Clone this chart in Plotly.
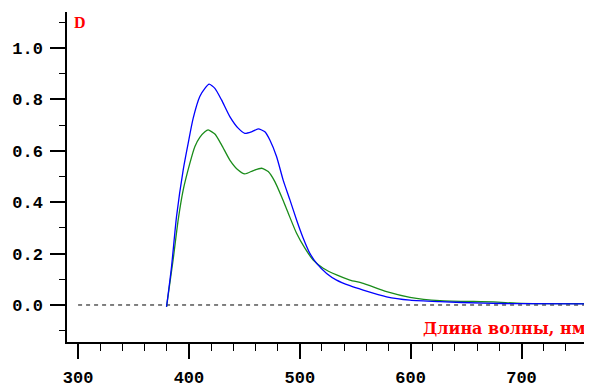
import plotly.graph_objects as go

# Blue spectrum
wl_blue = [379.8, 384.3, 388.8, 394.8, 399.3, 403.8, 409.8, 414.4, 418.2, 423.4, 429.4,
           436.9, 444.4, 450.4, 456.5, 462.5, 468.5, 473.0, 479.1, 485.0, 491.1, 497.1,
           503.1, 509.1, 515.2, 524.2, 533.2, 545.2, 557.2, 578.3, 599.4, 626.4, 665.5,
           700.0, 757.0]
d_blue = [-0.007, 0.149, 0.344, 0.525, 0.629, 0.726, 0.811, 0.843, 0.859, 0.843, 0.798,
          0.733, 0.688, 0.668, 0.674, 0.685, 0.674, 0.642, 0.577, 0.486, 0.409, 0.331,
          0.260, 0.201, 0.162, 0.123, 0.097, 0.075, 0.058, 0.032, 0.019, 0.013, 0.007,
          0.005, 0.004]

# Green spectrum
wl_green = [379.8, 385.7, 390.3, 394.8, 400.8, 405.3, 409.8, 414.4, 417.3, 423.4, 429.4,
            436.9, 444.4, 450.4, 458.0, 465.5, 471.5, 477.5, 483.6, 489.6, 497.1, 504.6,
            512.1, 521.1, 533.2, 545.2, 557.2, 578.3, 599.4, 626.4, 674.5, 700.0, 757.0]
d_green = [-0.007, 0.175, 0.331, 0.447, 0.551, 0.616, 0.652, 0.674, 0.681, 0.665, 0.623,
           0.564, 0.525, 0.510, 0.523, 0.532, 0.519, 0.480, 0.421, 0.357, 0.279, 0.221,
           0.175, 0.143, 0.117, 0.097, 0.084, 0.052, 0.030, 0.017, 0.012, 0.006, 0.005]

baseline_wl = [300, 757]
baseline_d = [0, 0]

x_ticks = [300, 400, 500, 600, 700]
y_ticks = [0.0, 0.2, 0.4, 0.6, 0.8, 1.0]
y_labels = ["0.0", "0.2", "0.4", "0.6", "0.8", "1.0"]

fig = go.Figure()
fig.add_trace(go.Scatter(x=baseline_wl, y=baseline_d, mode="lines",
                         line=dict(color="black", width=1, dash="4px,4px"),
                         hoverinfo="skip"))
fig.add_trace(go.Scatter(x=wl_green, y=d_green, mode="lines",
                         line=dict(color="#1a8c1a", width=1.3, shape="spline", smoothing=0.6)))
fig.add_trace(go.Scatter(x=wl_blue, y=d_blue, mode="lines",
                         line=dict(color="#0000ff", width=1.3, shape="spline", smoothing=0.6)))

tickfont = dict(family="Liberation Mono", size=17, color="black", weight="bold")

# page body has an 8px default margin, so the figure is 8px smaller each way
W, H = 584, 379
L, T, B = 59, 4, 45
PW, PH = W - L, H - T - B

fig.update_layout(
    width=W, height=H,
    margin=dict(l=L, r=0, t=T, b=B, pad=0),
    paper_bgcolor="white", plot_bgcolor="white",
    showlegend=False,
    xaxis=dict(range=[290, 763.6], showgrid=False, zeroline=False, automargin=False,
               showline=True, linecolor="black", linewidth=1.5,
               ticks="outside", ticklen=15, tickwidth=1.5, tickcolor="black",
               tickvals=x_ticks, ticktext=[str(v) for v in x_ticks],
               tickfont=tickfont, ticklabelstandoff=4,
               minor=dict(ticks="outside", ticklen=7, tickwidth=1.3, tickcolor="black",
                          dtick=20, tick0=300, showgrid=False)),
    yaxis=dict(range=[-0.144, 1.14], showgrid=False, zeroline=False, automargin=False,
               showline=True, linecolor="black", linewidth=1.5,
               ticks="outside", ticklen=15, tickwidth=1.5, tickcolor="black",
               tickvals=y_ticks, ticktext=y_labels,
               tickfont=tickfont, ticklabelstandoff=4,
               minor=dict(ticks="outside", ticklen=6, tickwidth=1.3, tickcolor="black",
                          dtick=0.1, tick0=0, showgrid=False)),
    annotations=[
        dict(text="D", xref="paper", yref="paper",
             x=(71.5 - L) / PW, y=1 - (14.5 - T) / PH,
             xanchor="center", yanchor="middle", showarrow=False,
             font=dict(family="Liberation Serif", size=16, color="red", weight="bold")),
        dict(text="Длина волны, нм", xref="paper", yref="paper",
             x=(413 - L) / PW, y=1 - (320 - T) / PH,
             xanchor="left", yanchor="middle", showarrow=False,
             font=dict(family="DejaVu Serif", size=16, color="red", weight="bold")),
    ],
)

fig.write_html("out.html")
